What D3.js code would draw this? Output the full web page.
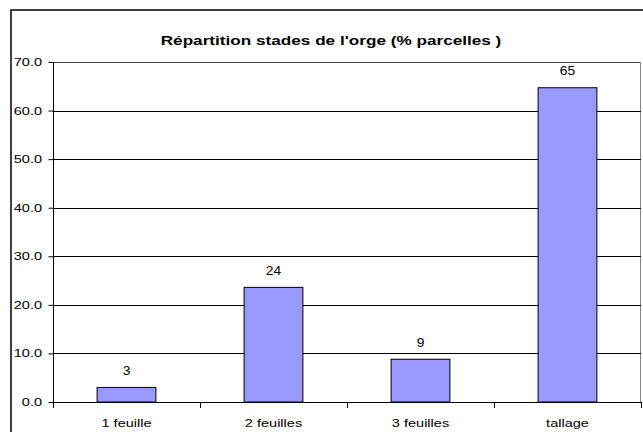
<!DOCTYPE html>
<html>
<head>
<meta charset="utf-8">
<script src="https://cdn.jsdelivr.net/npm/d3@7"></script>
<style>
  html, body { margin: 0; padding: 0; background: #fff; }
  svg { display: block; }
  text { font-family: "Liberation Sans", Arial, sans-serif; fill: #000; }
</style>
</head>
<body>
<svg id="chart" width="643" height="432"></svg>
<script>
const title = "Répartition stades de l'orge (% parcelles )";
const categories = ["1 feuille", "2 feuilles", "3 feuilles", "tallage"];
const values = [3.0, 23.6, 8.8, 64.7];
const yTicks = [0, 10, 20, 30, 40, 50, 60, 70];

const svg = d3.select("#chart");
const plot = { left: 53, right: 641, top: 62, bottom: 402 };
const SX = 1.32; // horizontal stretch of the reference text

// outer chart border
svg.append("rect")
  .attr("x", 11).attr("y", 10)
  .attr("width", 700).attr("height", 500)
  .attr("fill", "#fff").attr("stroke", "#000").attr("stroke-width", 1.5);

svg.append("text")
  .attr("transform", `translate(331,45) scale(${SX},1)`)
  .attr("text-anchor", "middle")
  .attr("font-size", 13).attr("font-weight", "bold")
  .text(title);

const x = d3.scaleBand().domain(categories).range([plot.left, plot.right]).padding(0);
const y = d3.scaleLinear().domain([0, 70]).range([plot.bottom, plot.top]);

// plot area border
svg.append("line").attr("x1", plot.left).attr("x2", plot.right)
  .attr("y1", plot.top + 0.5).attr("y2", plot.top + 0.5).attr("stroke", "#444");
svg.append("line").attr("x1", plot.right - 0.5).attr("x2", plot.right - 0.5)
  .attr("y1", plot.top).attr("y2", plot.bottom).attr("stroke", "#888");

// gridlines
svg.append("g").selectAll("line").data(yTicks.filter(d => d > 0 && d < 70)).join("line")
  .attr("x1", plot.left).attr("x2", plot.right)
  .attr("y1", d => Math.round(y(d)) + 0.5).attr("y2", d => Math.round(y(d)) + 0.5)
  .attr("stroke", "#000").attr("stroke-width", 1);

// y axis
const yAxis = d3.axisLeft(y).tickValues(yTicks).tickFormat(d3.format(".1f")).tickSize(5).tickPadding(6);
const gy = svg.append("g").attr("transform", `translate(${plot.left + 0.5},0)`).call(yAxis);
gy.selectAll("text")
  .attr("font-size", 11).attr("font-family", "Liberation Sans, Arial, sans-serif").attr("fill", "#000")
  .attr("transform", `translate(-11.5,0) scale(${SX},1)`).attr("x", 0);
gy.selectAll("line, path").attr("stroke", "#000");
gy.select("path").attr("d", `M0,${plot.top}V${plot.bottom}`);

// bars
const bw = x.bandwidth() * 0.4;
svg.append("g").selectAll("rect").data(categories).join("rect")
  .attr("x", (d) => x(d) + (x.bandwidth() - bw) / 2)
  .attr("y", (d, i) => y(values[i]))
  .attr("width", bw)
  .attr("height", (d, i) => y(0) - y(values[i]))
  .attr("fill", "#9999ff").attr("stroke", "#000").attr("stroke-width", 1);

// value labels
svg.append("g").selectAll("text").data(categories).join("text")
  .attr("transform", (d, i) => `translate(${x(d) + x.bandwidth() / 2},${y(values[i]) - 12.5}) scale(1.15,1)`)
  .attr("text-anchor", "middle").attr("font-size", 12)
  .text((d, i) => d3.format(".0f")(values[i]));

// x axis
const xAxis = d3.axisBottom(x).tickSize(0).tickPadding(0);
const gx = svg.append("g").attr("transform", `translate(0,${plot.bottom + 0.5})`).call(xAxis);
gx.select("path").attr("d", `M${plot.left},0H${plot.right}`).attr("stroke", "#000");
gx.selectAll("text").attr("font-size", 11).attr("font-family", "Liberation Sans, Arial, sans-serif")
  .attr("fill", "#000").attr("dy", null).attr("y", 0)
  .attr("transform", `translate(0,24.5) scale(${SX},1)`);
// category separator ticks
svg.append("g").selectAll("line").data(categories.concat(["__end"])).join("line")
  .attr("x1", (d, i) => Math.round(plot.left + i * x.step()) + 0.5)
  .attr("x2", (d, i) => Math.round(plot.left + i * x.step()) + 0.5)
  .attr("y1", plot.bottom).attr("y2", plot.bottom + 6)
  .attr("stroke", "#000");
</script>
</body>
</html>
